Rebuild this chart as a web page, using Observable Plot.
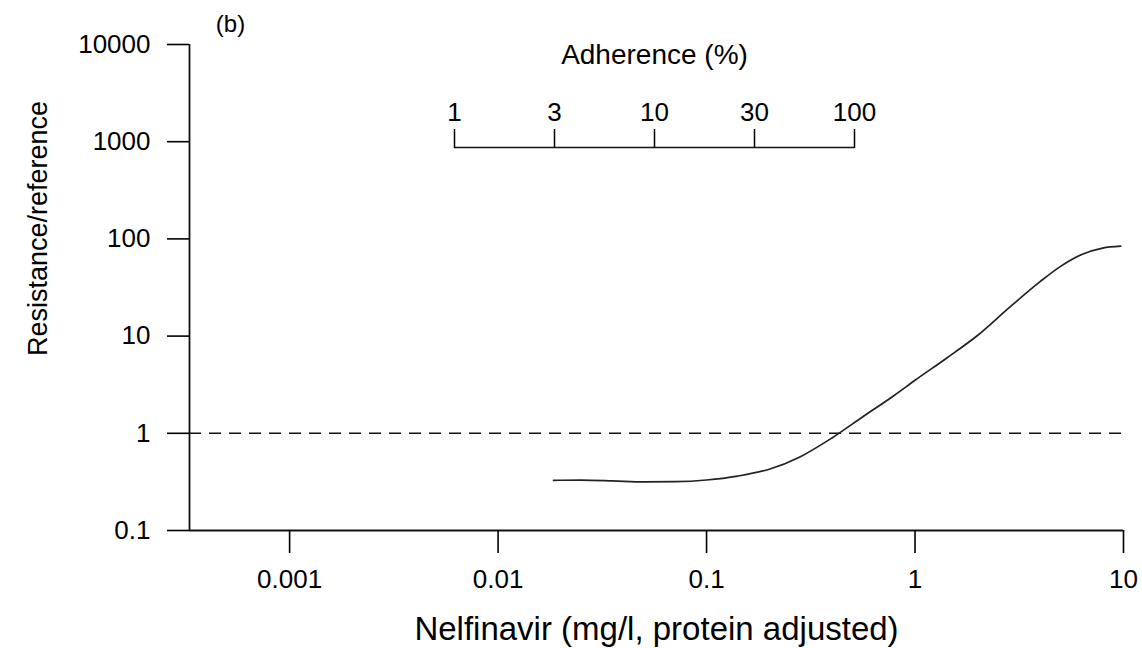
<!DOCTYPE html>
<html><head><meta charset="utf-8">
<script src="https://cdn.jsdelivr.net/npm/d3@7"></script>
<script src="https://cdn.jsdelivr.net/npm/@observablehq/plot@0.6"></script>
<style>
body{margin:0;background:#fff;}
#wrap{position:relative;width:1142px;height:648px;}
#wrap svg{position:absolute;left:0;top:0;}
</style></head><body><div id="wrap"></div>
<script>
// Nelfinavir concentration (mg/l, protein adjusted) and relative resistance
const concentration = [0.01845, 0.0251, 0.0355, 0.0501, 0.0708, 0.1, 0.141, 0.2, 0.282, 0.398, 0.562, 0.794, 1.0, 1.41, 2.0, 2.82, 3.98, 5.01, 6.31, 7.94, 9.7];
const resistance    = [0.328, 0.330, 0.324, 0.316, 0.318, 0.331, 0.363, 0.427, 0.575, 0.891, 1.48, 2.45, 3.51, 5.89, 10.2, 19.5, 36.3, 52.5, 69.2, 80.4, 84.1];
const xTicks = [0.001, 0.01, 0.1, 1, 10];
const yTicks = [0.1, 1, 10, 100, 1000, 10000];
const adherenceTicks = ["1", "3", "10", "30", "100"];
const referenceLevel = [1];
const xDomain = [3.31e-4, 10];
const yDomain = [0.1, 10000];
const panelLabel = "(b)";
const xLabel = "Nelfinavir (mg/l, protein adjusted)";
const yLabel = "Resistance/reference";
const adherenceTitle = "Adherence (%)";

const font = "'Liberation Sans', Arial, Helvetica, sans-serif";
const data = concentration.map((c, i) => ({c, r: resistance[i]}));

const main = Plot.plot({
  width: 1142, height: 648,
  marginLeft: 189, marginRight: 19, marginTop: 44, marginBottom: 118,
  style: {fontFamily: font, color: "#000", background: "#fff", overflow: "visible"},
  x: {type: "log", domain: xDomain},
  y: {type: "log", domain: yDomain},
  marks: [
    Plot.ruleY(referenceLevel, {strokeDasharray: "12,8", strokeWidth: 1.5, stroke: "#111"}),
    Plot.line(data, {x: "c", y: "r", curve: "monotone-x", strokeWidth: 1.7, stroke: "#222"}),
    Plot.ruleX([xDomain[0]], {strokeWidth: 1.8, stroke: "#111"}),
    Plot.ruleY([yDomain[0]], {strokeWidth: 1.8, stroke: "#111"}),
    Plot.axisX({ticks: xTicks, tickFormat: d => String(d), tickSize: 23, tickPadding: 16,
      fontSize: 26, strokeWidth: 1.6, label: null}),
    Plot.axisY({ticks: yTicks, tickFormat: d => String(d), tickSize: 22, tickPadding: 17,
      fontSize: 26, strokeWidth: 1.6, label: null}),
    Plot.text([xLabel], {text: d => d, frameAnchor: "bottom", dy: 99,
      fontSize: 33, textAnchor: "middle", lineAnchor: "middle"}),
    Plot.text([yLabel], {text: d => d, frameAnchor: "left", dx: -151, dy: -59, rotate: -90,
      fontSize: 27, textAnchor: "middle", lineAnchor: "middle"}),
    Plot.text([panelLabel], {text: d => d, frameAnchor: "top-left", dx: 41, dy: -20,
      fontSize: 24, textAnchor: "middle", lineAnchor: "middle"})
  ]
});

const adherence = Plot.plot({
  width: 1142, height: 150,
  marginLeft: 454, marginRight: 288, marginTop: 147, marginBottom: 0,
  style: {fontFamily: font, color: "#000", background: "transparent", overflow: "visible"},
  x: {type: "point", domain: adherenceTicks, padding: 0},
  y: {domain: [0, 1], axis: null},
  marks: [
    Plot.ruleY([1], {strokeWidth: 1.6, stroke: "#111"}),
    Plot.axisX({anchor: "top", tickSize: 19, tickPadding: 8, fontSize: 26, strokeWidth: 1.5, label: null}),
    Plot.text([adherenceTitle], {text: d => d, frameAnchor: "top", dy: -84, fontSize: 28, lineAnchor: "bottom"})
  ]
});

const wrap = document.getElementById("wrap");
wrap.appendChild(main);
wrap.appendChild(adherence);
</script></body></html>
